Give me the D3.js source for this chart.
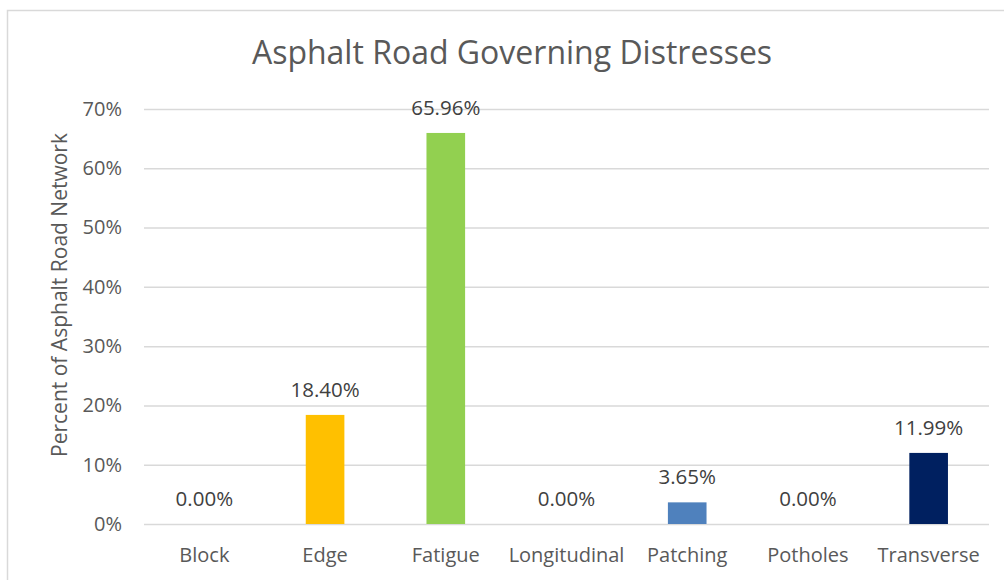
<!DOCTYPE html>
<html><head><meta charset="utf-8">
<script src="https://cdn.jsdelivr.net/npm/d3@7"></script>
<style>body{margin:0;background:#fff}svg{display:block}text{font-family:"Open Sans",sans-serif;fill:#595959}</style>
</head><body><svg id="c" width="1004" height="580"></svg>
<script>
const categories = ["Block","Edge","Fatigue","Longitudinal","Patching","Potholes","Transverse"];
const values = [0.00, 18.40, 65.96, 0.00, 3.65, 0.00, 11.99];
const colors = ["#FFC000","#FFC000","#92D050","#92D050","#4F81BD","#4F81BD","#002060"];
const yTicks = [0,10,20,30,40,50,60,70];
const title = "Asphalt Road Governing Distresses";
const yTitle = "Percent of Asphalt Road Network";

const svg = d3.select("#c");
svg.append("rect").attr("x",7.5).attr("y",10.5).attr("width",1100).attr("height",700)
  .attr("fill","#fff").attr("stroke","#d9d9d9").attr("stroke-width",1.5);

const m = {left:144, right:989, top:109, bottom:524};
const x = d3.scaleBand().domain(categories).range([m.left,m.right]).paddingInner(0.68).paddingOuter(0.34);
const y = d3.scaleLinear().domain([0,70]).range([m.bottom,m.top]);

const g = svg.append("g");
const yAxis = g.append("g").attr("transform",`translate(${m.left},0)`)
  .call(d3.axisLeft(y).tickValues(yTicks).tickFormat(d=>d+"%").tickSize(-(m.right-m.left)).tickPadding(22));
yAxis.select(".domain").remove();
yAxis.selectAll("line").attr("stroke","#d9d9d9").attr("stroke-width",1.5);
yAxis.selectAll("text").attr("font-size",20).style("fill","#595959").style("font-family","'Open Sans',sans-serif");

const xAxis = g.append("g").attr("transform",`translate(0,${m.bottom})`)
  .call(d3.axisBottom(x).tickSize(0).tickPadding(24));
xAxis.select(".domain").remove();
xAxis.selectAll("text").attr("font-size",20).style("fill","#595959").style("font-family","'Open Sans',sans-serif");

g.selectAll("rect.bar").data(values).join("rect").attr("class","bar")
  .attr("x",(d,i)=>x(categories[i])).attr("width",x.bandwidth())
  .attr("y",d=>y(d)).attr("height",d=>y(0)-y(d))
  .attr("fill",(d,i)=>colors[i]);

g.selectAll("text.lbl").data(values).join("text").attr("class","lbl")
  .attr("x",(d,i)=>x(categories[i])+x.bandwidth()/2).attr("y",d=>y(d)-18)
  .attr("text-anchor","middle").attr("font-size",20.5)
  .style("fill","#404040")
  .text(d=>d.toFixed(2)+"%");

svg.append("text").attr("x",512).attr("y",64).attr("text-anchor","middle")
  .attr("font-size",32).text(title);

svg.append("text").attr("transform","translate(67,295) rotate(-90)").attr("text-anchor","middle")
  .attr("font-size",21).text(yTitle);
</script></body></html>
